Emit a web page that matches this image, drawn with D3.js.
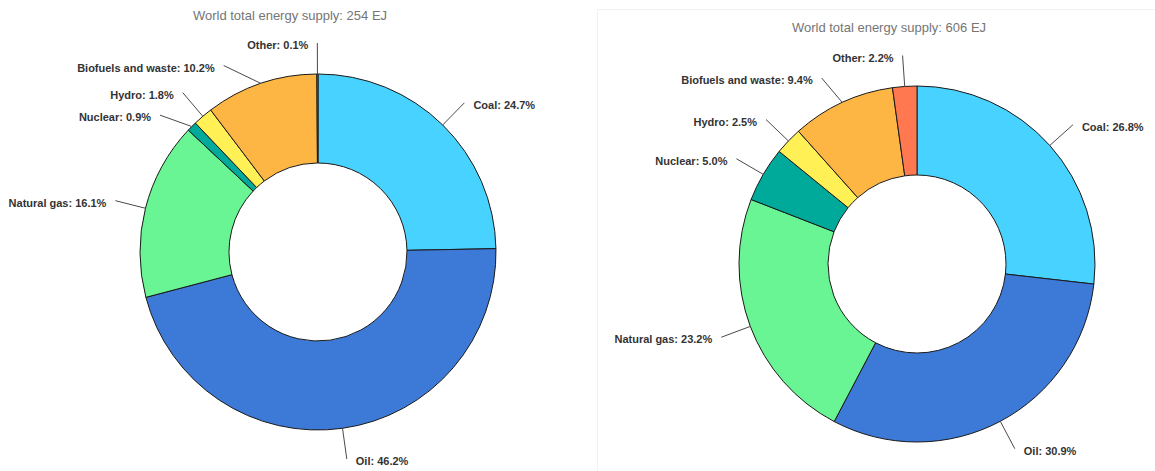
<!DOCTYPE html>
<html>
<head>
<meta charset="utf-8">
<script src="https://cdn.jsdelivr.net/npm/d3@7"></script>
<style>
  body { margin: 0; background: #fff; }
  svg { display: block; font-family: Arial, "Liberation Sans", sans-serif; }
</style>
</head>
<body>
<svg id="chart" width="1155" height="471"></svg>
<script>
// energy sources, shares in percent
var sources = ["Coal", "Oil", "Natural gas", "Nuclear", "Hydro", "Biofuels and waste", "Other"];
var shareLeft = [24.7, 46.2, 16.1, 0.9, 1.8, 10.2, 0.1];
var shareRight = [26.8, 30.9, 23.2, 5.0, 2.5, 9.4, 2.2];
var totals = [254, 606];
var colors = ["#48d2ff", "#3d79d6", "#69f594", "#00aa9b", "#fff155", "#fdb643", "#ff7850"];

var svg = d3.select("#chart");

// faint frame around the second panel
svg.append("rect")
    .attr("x", 597.5).attr("y", 9.5)
    .attr("width", 600).attr("height", 500)
    .attr("fill", "none")
    .attr("stroke", "#f2f2f2");

var outerR = 178, innerR = 89, labelR = 209;

function drawDonut(cx, cy, values, total) {
    var g = svg.append("g")
        .attr("transform", "translate(" + cx + "," + cy + ")");

    g.append("text")
        .attr("x", -28)
        .attr("y", -237)
        .attr("text-anchor", "middle")
        .attr("dominant-baseline", "central")
        .attr("font-size", 13)
        .attr("fill", "#757575")
        .text("World total energy supply: " + total + " EJ");

    var data = sources.map(function(s, i) { return { name: s, value: values[i], color: colors[i] }; });

    var pie = d3.pie().sort(null).value(function(d) { return d.value; });
    var arc = d3.arc().innerRadius(innerR).outerRadius(outerR);
    var arcs = pie(data);

    g.selectAll(".slice")
        .data(arcs)
        .enter().append("path")
        .attr("class", "slice")
        .attr("d", arc)
        .attr("fill", function(d) { return d.data.color; })
        .attr("stroke", "#1a1a1a")
        .attr("stroke-width", 1);

    // label layout: radial spot, then push down on each side to avoid overlap
    var labels = arcs.map(function(d) {
        var a = (d.startAngle + d.endAngle) / 2;
        var y0 = -labelR * Math.cos(a);
        return {
            d: d, a: a,
            side: Math.sin(a) >= 0 ? 1 : -1,
            y0: y0, y: y0,
            ax: outerR * Math.sin(a), ay: -outerR * Math.cos(a)
        };
    });
    [1, -1].forEach(function(side) {
        var grp = labels.filter(function(l) { return l.side === side; })
            .sort(function(a, b) { return a.y0 - b.y0; });
        for (var i = 1; i < grp.length; i++) {
            if (grp[i].y < grp[i - 1].y + 22.5) grp[i].y = grp[i - 1].y + 22.5;
        }
    });
    labels.forEach(function(l) {
        if (Math.abs(l.y - l.y0) < 0.01) {
            l.x = labelR * Math.sin(l.a);
        } else {
            l.x = l.side * Math.sqrt(Math.max(0, labelR * labelR - l.y * l.y));
        }
    });

    g.selectAll(".lead")
        .data(labels)
        .enter().append("line")
        .attr("class", "lead")
        .attr("x1", function(l) { return l.ax; })
        .attr("y1", function(l) { return l.ay; })
        .attr("x2", function(l) { return l.x; })
        .attr("y2", function(l) { return l.y; })
        .attr("stroke", "#4a4a4a")
        .attr("stroke-width", 1);

    g.selectAll(".lbl")
        .data(labels)
        .enter().append("text")
        .attr("class", "lbl")
        .attr("x", function(l) { return l.x + l.side * 9; })
        .attr("y", function(l) { return l.y + 2; })
        .attr("text-anchor", function(l) { return l.side > 0 ? "start" : "end"; })
        .attr("dominant-baseline", "central")
        .attr("font-size", 11)
        .attr("font-weight", "bold")
        .attr("fill", "#333")
        .text(function(l) { return l.d.data.name + ": " + l.d.data.value.toFixed(1) + "%"; });
}

drawDonut(318, 252, shareLeft, totals[0]);
drawDonut(917, 264, shareRight, totals[1]);
</script>
</body>
</html>
